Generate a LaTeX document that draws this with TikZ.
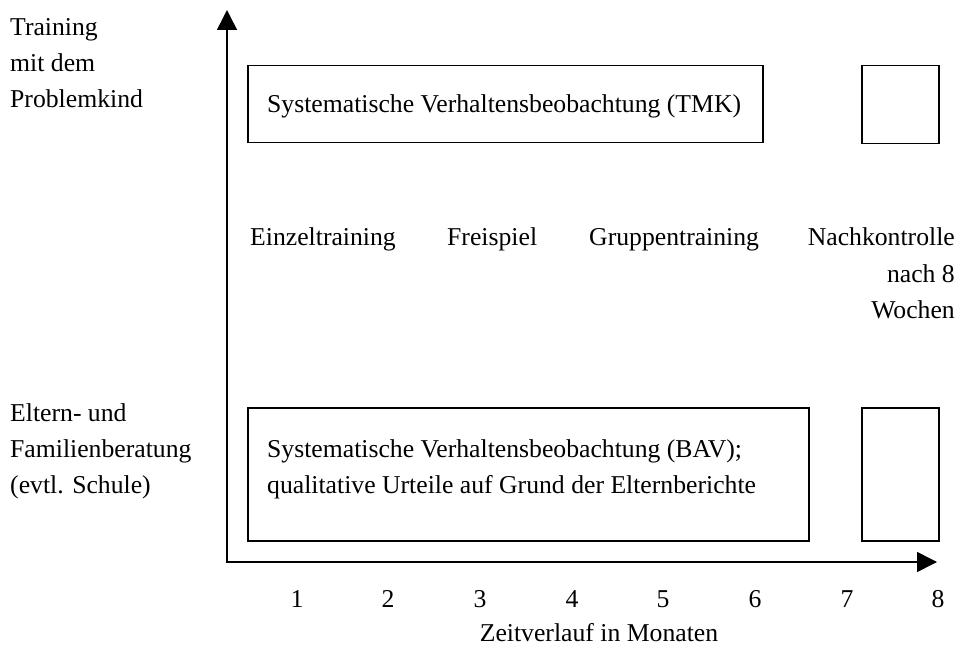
\documentclass[tikz,border=0pt]{standalone}
\usepackage{fontspec}
\setmainfont{Liberation Serif}
\usetikzlibrary{arrows.meta}
\begin{document}
\begin{tikzpicture}[x=1pt,y=-1pt,
  lbl/.style={font=\fontsize{25.7}{31}\selectfont, inner sep=0pt, anchor=base west},
  lblr/.style={lbl, anchor=base east},
  lblc/.style={lbl, anchor=base},
  boxr/.style={draw, line width=1.5pt, inner sep=0pt, anchor=north west},
  axis/.style={line width=1.5pt, {Triangle[length=20pt,width=20pt]}-{Triangle[length=20pt,width=20pt]}}]
\useasboundingbox (0,0) rectangle (960,652);
% axes
\coordinate (yt) at (227,10);
\coordinate (o) at (227,562);
\coordinate (xt) at (937,562);
\draw[axis] (yt) -- (o) -- (xt);
% boxes
\node[boxr, minimum width=515pt, minimum height=77pt] (tmk) at (247,65) {};
\node[boxr, minimum width=77pt, minimum height=78pt] (tmk2) at (861,65) {};
\node[boxr, minimum width=561pt, minimum height=133pt] (bav) at (247,407) {};
\node[boxr, minimum width=77pt, minimum height=133pt] (bav2) at (861,407) {};
% box texts
\node[lbl] (t1) at (267,113) {Systematische Verhaltensbeobachtung (TMK)};
\node[lbl] (b1) at (267,457) {Systematische Verhaltensbeobachtung (BAV);};
\node[lbl] (b2) at (267,493) {qualitative Urteile auf Grund der Elternberichte};
% left labels
\node[lbl] (l1) at (10,36) {Training};
\node[lbl] (l2) at (10,72) {mit dem};
\node[lbl] (l3) at (10,108) {Problemkind};
\node[lbl] (l4) at (10,421) {Eltern- und};
\node[lbl] (l5) at (10,457) {Familienberatung};
\node[lbl] (l6) at (10,493) {(evtl. Schule)};
% middle row
\node[lbl] (m1) at (250,246) {Einzeltraining};
\node[lbl] (m2) at (447,246) {Freispiel};
\node[lbl] (m3) at (589,246) {Gruppentraining};
\node[lblr] (m4) at (955,246) {Nachkontrolle};
\node[lblr] (m5) at (955,282) {nach 8};
\node[lblr] (m6) at (955,318) {Wochen};
% month numbers
\foreach \i/\xx in {1/297,2/388,3/480,4/572,5/663,6/755,7/847,8/938}
  \node[lblc] (n\i) at (\xx,607) {\i};
\node[lblc] (zt) at (599,641) {Zeitverlauf in Monaten};
\end{tikzpicture}
\end{document}
